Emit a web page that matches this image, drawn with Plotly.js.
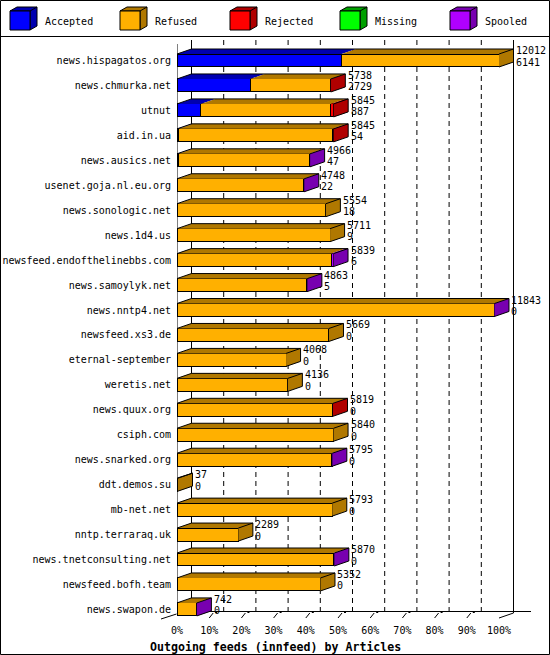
<!DOCTYPE html>
<html>
<head>
<meta charset="utf-8">
<script src="https://cdn.plot.ly/plotly-3.0.1.min.js"></script>
<style>
  html, body { margin: 0; padding: 0; background: #fff; }
  #myDiv { width: 550px; height: 655px; }
</style>
</head>
<body>
<div id="myDiv"></div>
<script>
// innfeed outgoing feeds, article counts per peer
var hosts = ['news.hispagatos.org', 'news.chmurka.net', 'utnut', 'aid.in.ua', 'news.ausics.net',
  'usenet.goja.nl.eu.org', 'news.sonologic.net', 'news.1d4.us', 'newsfeed.endofthelinebbs.com',
  'news.samoylyk.net', 'news.nntp4.net', 'newsfeed.xs3.de', 'eternal-september', 'weretis.net',
  'news.quux.org', 'csiph.com', 'news.snarked.org', 'ddt.demos.su', 'mb-net.net',
  'nntp.terraraq.uk', 'news.tnetconsulting.net', 'newsfeed.bofh.team', 'news.swapon.de'];
var offered  = [12012, 5738, 5845, 5845, 4966, 4748, 5554, 5711, 5839, 4863, 11843, 5669, 4068, 4136, 5819, 5840, 5795, 37, 5793, 2289, 5870, 5352, 742];
var accepted = [6141, 2729, 887, 54, 47, 22, 18, 9, 6, 5, 0, 0, 0, 0, 0, 0, 0, 0, 0, 0, 0, 0, 0];
var rejected = [0, 12, 110, 40, 0, 0, 0, 0, 0, 0, 0, 0, 0, 0, 12, 0, 0, 0, 0, 0, 0, 0, 0];
var missing  = [0, 0, 0, 0, 0, 0, 0, 0, 0, 0, 0, 0, 0, 0, 0, 0, 0, 0, 0, 0, 0, 0, 0];
var spooled  = [0, 0, 0, 0, 20, 15, 0, 0, 80, 15, 15, 0, 0, 0, 0, 0, 30, 0, 0, 0, 30, 0, 20];
var refused  = offered.map(function (o, i) { return o - accepted[i] - rejected[i] - missing[i] - spooled[i]; });

var seriesNames = ['Accepted', 'Refused', 'Rejected', 'Missing', 'Spooled'];
var seriesVals = [accepted, refused, rejected, missing, spooled];
var frontColors = ['#0000ff', '#ffb000', '#ff0000', '#00ff00', '#b000ff'];
var darkColors = ['#0000b0', '#b07800', '#b00000', '#00a000', '#7800b0'];
var pctTicks = [0, 10, 20, 30, 40, 50, 60, 70, 80, 90, 100];

// plot area in pixels
var W = 550, H = 655;
var L = 177, R = 532, T = 40, B = 620;
var PXPCT = 3.22;           // pixels per percent
var DX = 14.5 / PXPCT;      // depth offset in percent
var DY = 5 / 24.95;         // depth offset in rows
var BW = 0.52;              // bar thickness in rows
function px(x) { return (x - L) / (R - L); }
function py(y) { return 1 - (y - T) / (B - T); }

var maxOff = Math.max.apply(null, offered);
function pct(v) { return v / maxOff * 100; }
var rows = hosts.map(function (h, i) { return i; });

var data = [];
// front faces
seriesVals.forEach(function (vals, s) {
  data.push({
    type: 'bar', orientation: 'h', name: seriesNames[s],
    y: rows, x: vals.map(function (v) { return v > 0 ? pct(v) : null; }),
    width: BW, marker: {color: frontColors[s], line: {color: '#000', width: 1}},
    hoverinfo: 'skip', showlegend: false
  });
});

// top and side faces
var faceX = seriesNames.map(function () { return []; });
var faceY = seriesNames.map(function () { return []; });
var outX = [], outY = [];
rows.forEach(function (i) {
  var start = 0, last = -1, yt = i - BW / 2, yb = i + BW / 2;
  seriesVals.forEach(function (vals, s) {
    var w = pct(vals[i]);
    if (vals[i] <= 0) return;
    faceX[s].push(start, start + w, start + w + DX, start + DX, start, null);
    faceY[s].push(yt, yt, yt - DY, yt - DY, yt, null);
    start += w;
    last = s;
  });
  if (last >= 0) {
    faceX[last].push(start, start + DX, start + DX, start, start, null);
    faceY[last].push(yt, yt - DY, yb - DY, yb, yt, null);
    outX.push(0, DX, start + DX, start + DX, start, null, start, start + DX, null);
    outY.push(yt, yt - DY, yt - DY, yb - DY, yb, null, yt, yt - DY, null);
  }
});
seriesNames.forEach(function (n, s) {
  if (!faceX[s].length) return;
  data.push({type: 'scatter', mode: 'lines', x: faceX[s], y: faceY[s], fill: 'toself',
    fillcolor: darkColors[s], line: {width: 0, color: darkColors[s]}, hoverinfo: 'skip', showlegend: false});
});
data.push({type: 'scatter', mode: 'lines', x: outX, y: outY, line: {width: 1, color: '#000'},
  hoverinfo: 'skip', showlegend: false});

var shapes = [];
function line(x0, y0, x1, y1, xref, yref, dash) {
  shapes.push({type: 'line', x0: x0, y0: y0, x1: x1, y1: y1, xref: xref, yref: yref,
    layer: 'below', line: {color: '#000', width: 1, dash: dash || 'solid'}});
}
// frame
shapes.push({type: 'rect', xref: 'paper', yref: 'paper', x0: px(0.5), x1: px(549.5), y0: py(0.5), y1: py(654.5),
  line: {color: '#000', width: 1}, layer: 'below'});
line(px(0), py(36.5), px(550), py(36.5), 'paper', 'paper');
// walls and floor
line(0, py(44), 0, py(614), 'x', 'paper');
line(DX, py(40), DX, py(611.5), 'x', 'paper');
line(100 + DX, py(40), 100 + DX, py(613), 'x', 'paper');
line(px(191), py(611.5), px(531), py(611.5), 'paper', 'paper');
line(px(161), py(619), px(176.5), py(614), 'paper', 'paper');
line(100, py(618), 100 + DX, py(613), 'x', 'paper');
pctTicks.forEach(function (v) {
  if (v === 0 || v === 100) return;
  line(v + DX, py(40), v + DX, py(611), 'x', 'paper', '5px,4px');
  line(v, py(618), v + 4 / PXPCT, py(613), 'x', 'paper');
  shapes.push({type: 'rect', xref: 'x', yref: 'paper', x0: v + 6 / PXPCT, x1: v + 8 / PXPCT,
    y0: py(613), y1: py(611), fillcolor: '#000', line: {width: 0}});
});

// legend cubes
var annotations = [];
var font = {family: 'DejaVu Sans Mono', size: 10, color: '#000'};
seriesNames.forEach(function (n, s) {
  var lx = 10 + s * 110, top = 11, bot = 30, fw = 20, dx = 7, dy = 4;
  function P(x, y) { return px(x) + ',' + py(y); }
  shapes.push({type: 'path', xref: 'paper', yref: 'paper', fillcolor: darkColors[s], line: {color: '#000', width: 1},
    path: 'M' + P(lx, top) + 'L' + P(lx + dx, top - dy) + 'L' + P(lx + fw + dx, top - dy) + 'L' + P(lx + fw + dx, bot - dy) +
      'L' + P(lx + fw, bot) + 'L' + P(lx + fw, top) + 'Z'});
  shapes.push({type: 'path', xref: 'paper', yref: 'paper', fillcolor: 'rgba(0,0,0,0)', line: {color: '#000', width: 1},
    path: 'M' + P(lx + fw, top) + 'L' + P(lx + fw + dx, top - dy)});
  shapes.push({type: 'rect', xref: 'paper', yref: 'paper', x0: px(lx), x1: px(lx + fw), y0: py(top), y1: py(bot),
    fillcolor: frontColors[s], line: {color: '#000', width: 1}});
  annotations.push({xref: 'paper', yref: 'paper', x: px(lx + 33), y: py(21), text: n, showarrow: false,
    xanchor: 'left', yanchor: 'middle', font: font});
});

// totals next to each bar
rows.forEach(function (i) {
  annotations.push({x: pct(offered[i]), y: i, text: String(offered[i]), showarrow: false,
    xanchor: 'left', yanchor: 'middle', xshift: 15, yshift: 10, font: font});
  annotations.push({x: pct(offered[i]), y: i, text: String(accepted[i]), showarrow: false,
    xanchor: 'left', yanchor: 'middle', xshift: 15, yshift: -1.5, font: font});
});
annotations.push({xref: 'paper', yref: 'paper', x: px(275), y: py(647), showarrow: false,
  text: '<b>Outgoing feeds (innfeed) by Articles</b>', xanchor: 'center', yanchor: 'middle',
  font: {family: 'DejaVu Sans Mono', size: 11.6, color: '#000'}});

var layout = {
  width: W, height: H,
  margin: {l: L, r: W - R, t: T, b: H - B, pad: 0},
  paper_bgcolor: '#fff', plot_bgcolor: 'rgba(0,0,0,0)',
  barmode: 'stack', bargap: 0, showlegend: false,
  xaxis: {range: [0, (R - L) / PXPCT], tickvals: pctTicks, ticktext: pctTicks.map(function (v) { return v + '%'; }),
    showgrid: false, zeroline: false, showline: false, ticks: 'outside', ticklen: 1, tickcolor: 'rgba(0,0,0,0)',
    tickfont: font, fixedrange: true},
  yaxis: {range: [(B - 60.5) / 24.95, (T - 60.5) / 24.95], tickvals: rows, ticktext: hosts,
    showgrid: false, zeroline: false, showline: false, ticks: 'outside', ticklen: 3, tickcolor: 'rgba(0,0,0,0)',
    tickfont: font, fixedrange: true},
  shapes: shapes,
  annotations: annotations
};

Plotly.newPlot('myDiv', data, layout, {staticPlot: true, displayModeBar: false});
</script>
</body>
</html>
